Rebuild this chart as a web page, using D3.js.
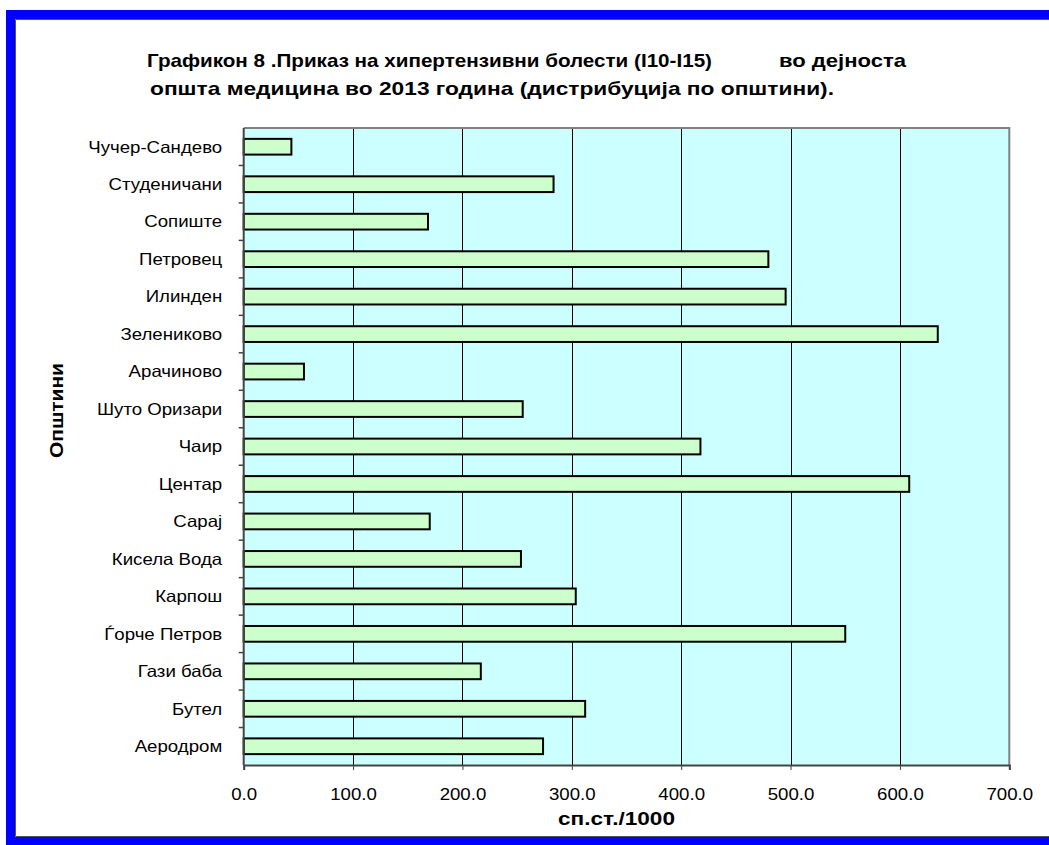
<!DOCTYPE html>
<html>
<head>
<meta charset="utf-8">
<script src="https://cdn.jsdelivr.net/npm/d3@7"></script>
<style>
  html, body { margin: 0; padding: 0; background: #ffffff; }
  svg { display: block; font-family: "Liberation Sans", Arial, sans-serif; }
</style>
</head>
<body>
<svg id="chart" width="1049" height="845"></svg>
<script>
// Municipalities, top to bottom as drawn
const categories = [
  "Чучер-Сандево", "Студеничани", "Сопиште", "Петровец", "Илинден",
  "Зелениково", "Арачиново", "Шуто Оризари", "Чаир", "Центар",
  "Сарај", "Кисела Вода", "Карпош", "Ѓорче Петров", "Гази баба",
  "Бутел", "Аеродром"
];
// Rate per 1000 population
const values = [
  43.6, 283.3, 168.5, 479.7, 495.5,
  634.6, 55.1, 255.1, 417.6, 608.5,
  170.1, 253.5, 303.6, 550.0, 216.8,
  312.2, 273.7
];
const xTicks = [0, 100, 200, 300, 400, 500, 600, 700];
const titleMain = "Графикон 8 .Приказ на хипертензивни болести (I10-I15)";
const titleTail = "во дејноста";
const titleSecond = "општа медицина  во 2013 година (дистрибуција по општини).";
const xTitle = "сп.ст./1000";
const yTitle = "Општини";

const svg = d3.select("#chart");
const W = 1049, H = 845;
const TEXT_STRETCH = 1.13;   // labels are drawn slightly wide

// Outer frame: blue band on top, left and bottom
const frame = svg.append("g");
frame.append("rect").attr("x", 6).attr("y", 10).attr("width", W - 6).attr("height", 9).attr("fill", "#0000ff");
frame.append("rect").attr("x", 6).attr("y", 10).attr("width", 9).attr("height", H - 10).attr("fill", "#0000ff");
frame.append("rect").attr("x", 6).attr("y", 837).attr("width", W - 6).attr("height", 8).attr("fill", "#0000ff");
frame.append("path")
  .attr("d", `M${W},19.5 H15.5 V836.5 H${W}`)
  .attr("fill", "none").attr("stroke", "#555").attr("stroke-width", 1);

// Plot area
const plot = { left: 243.7, right: 1009.3, top: 128, bottom: 765 };

const x = d3.scaleLinear().domain([0, 700]).range([plot.left, plot.right]);
const y = d3.scaleBand().domain(categories).range([plot.top, plot.bottom]).paddingInner(0.58).paddingOuter(0.29);
const yEdge = d3.scaleBand().domain(categories).range([plot.top, plot.bottom]);

svg.append("rect")
  .attr("x", plot.left).attr("y", plot.top)
  .attr("width", plot.right - plot.left).attr("height", plot.bottom - plot.top)
  .attr("fill", "#ccffff");

// Vertical gridlines
svg.append("g")
  .selectAll("line")
  .data(xTicks.filter(t => t > 0 && t < 700))
  .join("line")
  .attr("x1", d => Math.round(x(d)) + 0.5).attr("x2", d => Math.round(x(d)) + 0.5)
  .attr("y1", plot.top).attr("y2", plot.bottom)
  .attr("stroke", "#000").attr("stroke-width", 1);

// Top and right plot border
svg.append("path")
  .attr("d", `M${plot.left},${plot.top} H${plot.right} V${plot.bottom}`)
  .attr("fill", "none").attr("stroke", "#808080").attr("stroke-width", 2);

// Bars
svg.append("g")
  .selectAll("rect")
  .data(categories)
  .join("rect")
  .attr("x", x(0))
  .attr("y", d => y(d))
  .attr("width", (d, i) => x(values[i]) - x(0))
  .attr("height", y.bandwidth())
  .attr("fill", "#ccffcc")
  .attr("stroke", "#000")
  .attr("stroke-width", 2);

// X axis
const xAxis = svg.append("g")
  .attr("transform", `translate(0,${plot.bottom})`)
  .call(d3.axisBottom(x).tickValues(xTicks).tickFormat(d3.format(".1f")).tickSizeOuter(0).tickSize(5));
xAxis.select(".domain").attr("stroke", "#444").attr("stroke-width", 2);
xAxis.selectAll(".tick line").attr("stroke", "#444");
xAxis.selectAll("text")
  .attr("y", 35).attr("dy", 0)
  .attr("transform", `scale(${TEXT_STRETCH},1)`)
  .attr("font-size", 16.5).attr("fill", "#000")
  .attr("font-family", "Liberation Sans, Arial, sans-serif");

// Y axis: ticks sit on the category boundaries
const yAxisG = svg.append("g").attr("transform", `translate(${plot.left},0)`);
yAxisG.append("line")
  .attr("x1", 0).attr("x2", 0).attr("y1", plot.top).attr("y2", plot.bottom)
  .attr("stroke", "#444").attr("stroke-width", 2);
yAxisG.selectAll("line.tick")
  .data(categories.slice(1))
  .join("line")
  .attr("class", "tick")
  .attr("x1", -5).attr("x2", 0)
  .attr("y1", d => yEdge(d)).attr("y2", d => yEdge(d))
  .attr("stroke", "#444").attr("stroke-width", 1.5);
yAxisG.append("g")
  .attr("transform", `translate(-21.5,0) scale(${TEXT_STRETCH},1)`)
  .selectAll("text")
  .data(categories)
  .join("text")
  .attr("x", 0)
  .attr("y", d => yEdge(d) + yEdge.bandwidth() / 2)
  .attr("dy", "0.35em")
  .attr("text-anchor", "end")
  .attr("font-size", 16.5)
  .attr("fill", "#000")
  .text(d => d);

// Title
const title = svg.append("g").attr("font-size", 19).attr("font-weight", "bold");
title.append("text")
  .attr("x", 147).attr("y", 67)
  .attr("textLength", 565).attr("lengthAdjust", "spacingAndGlyphs")
  .text(titleMain);
title.append("text")
  .attr("x", 779).attr("y", 67)
  .attr("textLength", 127).attr("lengthAdjust", "spacingAndGlyphs")
  .text(titleTail);
title.append("text")
  .attr("x", 150).attr("y", 95)
  .attr("textLength", 684).attr("lengthAdjust", "spacingAndGlyphs")
  .text(titleSecond);

// Axis titles
svg.append("text")
  .attr("x", 558).attr("y", 825)
  .attr("font-size", 17.5).attr("font-weight", "bold")
  .attr("textLength", 117).attr("lengthAdjust", "spacingAndGlyphs")
  .text(xTitle);

svg.append("text")
  .attr("transform", `translate(63,458) rotate(-90)`)
  .attr("font-size", 18).attr("font-weight", "bold")
  .attr("textLength", 95).attr("lengthAdjust", "spacingAndGlyphs")
  .text(yTitle);
</script>
</body>
</html>
